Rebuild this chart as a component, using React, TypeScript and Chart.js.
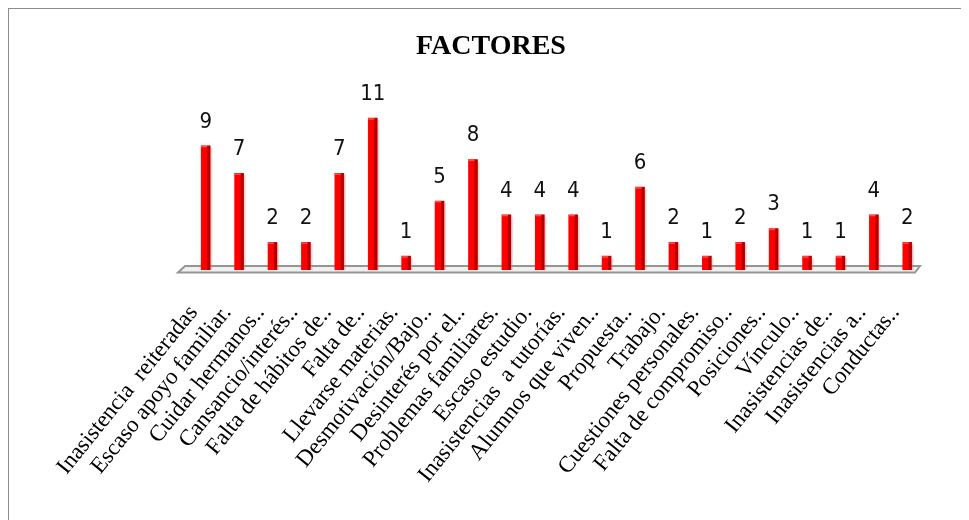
import React, { useEffect, useRef } from "react";
import { Chart, registerables } from "chart.js";

Chart.register(...registerables);

const categories: string[] = [
  "Inasistencia  reiteradas",
  "Escaso apoyo familiar.",
  "Cuidar hermanos..",
  "Cansancio/interés..",
  "Falta de hábitos de..",
  "Falta de..",
  "Llevarse materias.",
  "Desmotivación/Bajo..",
  "Desinterés por el..",
  "Problemas familiares.",
  "Escaso estudio.",
  "Inasistencias  a tutorías.",
  "Alumnos que viven..",
  "Propuesta..",
  "Trabajo.",
  "Cuestiones personales.",
  "Falta de compromiso..",
  "Posiciones..",
  "Vínculo..",
  "Inasistencias de..",
  "Inasistencias a..",
  "Conductas..",
];

const values: number[] = [9, 7, 2, 2, 7, 11, 1, 5, 8, 4, 4, 4, 1, 6, 2, 1, 2, 3, 1, 1, 4, 2];

const chartTitle = "FACTORES";

const floorPlugin = {
  id: "floor3d",
  beforeDatasetsDraw(chart: any) {
    const { ctx, chartArea } = chart;
    const base = chart.scales.y.getPixelForValue(0);
    ctx.save();
    ctx.beginPath();
    ctx.moveTo(chartArea.left - 4, base - 4);
    ctx.lineTo(chartArea.right - 4, base - 4);
    ctx.lineTo(chartArea.right - 9, base + 2.5);
    ctx.lineTo(chartArea.left - 11, base + 2.5);
    ctx.closePath();
    ctx.fillStyle = "#f0f0f0";
    ctx.fill();
    ctx.strokeStyle = "#959595";
    ctx.lineWidth = 2;
    ctx.stroke();
    ctx.restore();
  },
};

const bar3dPlugin = {
  id: "bar3d",
  afterDatasetsDraw(chart: any) {
    const { ctx } = chart;
    const meta = chart.getDatasetMeta(0);
    ctx.save();
    meta.data.forEach((el: any, i: number) => {
      const { x, y, base, width } = el.getProps(["x", "y", "base", "width"], true);
      const right = x + width / 2;
      ctx.fillStyle = "rgba(255,120,120,0.35)";
      ctx.fillRect(right, y + 2, 2, base - y - 2);
      ctx.fillStyle = "#b00000";
      ctx.fillRect(right - 3, y, 3, base - y);
      ctx.fillStyle = "#ff5050";
      ctx.fillRect(x - width / 2, y, width - 3, 1.5);
      ctx.fillStyle = "#111";
      ctx.font = "22px 'Liberation Sans Narrow', 'DejaVu Sans Condensed', sans-serif";
      ctx.textAlign = "center";
      ctx.textBaseline = "middle";
      ctx.fillText(String(values[i]), x, y - 24);
    });
    ctx.restore();
  },
};

const titlePlugin = {
  id: "customTitle",
  afterDraw(chart: any) {
    const { ctx } = chart;
    ctx.save();
    ctx.fillStyle = "#000";
    ctx.font = "bold 28px 'Liberation Serif', 'Times New Roman', serif";
    ctx.textAlign = "center";
    ctx.textBaseline = "middle";
    ctx.fillText(chartTitle, 482, 38);
    ctx.restore();
  },
};

export default function App() {
  const ref = useRef<HTMLCanvasElement | null>(null);

  useEffect(() => {
    if (!ref.current) return;
    const chart = new Chart(ref.current, {
      type: "bar",
      data: {
        labels: categories,
        datasets: [
          {
            data: values,
            backgroundColor: "#ff0000",
            borderWidth: 0,
            barThickness: 9,
          },
        ],
      },
      options: {
        animation: false,
        responsive: false,
        devicePixelRatio: 1,
        layout: { padding: { left: 180, right: 45, top: 95.4, bottom: 0 } },
        plugins: {
          legend: { display: false },
          tooltip: { enabled: false },
          title: { display: false },
        },
        scales: {
          x: {
            grid: { display: false, drawTicks: false },
            border: { display: false },
            ticks: {
              autoSkip: false,
              minRotation: 51,
              maxRotation: 51,
              color: "#000",
              padding: 30,
              labelOffset: -12,
              font: { family: "'Liberation Serif', 'Times New Roman', serif", size: 23 },
            },
            afterFit(scale: any) {
              scale.height = 251;
            },
          },
          y: {
            display: false,
            min: 0,
            max: 12,
          },
        },
      },
      plugins: [floorPlugin, bar3dPlugin, titlePlugin],
    });
    return () => chart.destroy();
  }, []);

  return (
    <div
      style={{
        marginTop: -1,
        marginLeft: -1,
        borderTop: "2px solid #8c8c8c",
        borderLeft: "2px solid #8c8c8c",
        width: 962,
        height: 514,
        overflow: "hidden",
      }}
    >
      <canvas ref={ref} width={960} height={512} style={{ display: "block" }} />
    </div>
  );
}
